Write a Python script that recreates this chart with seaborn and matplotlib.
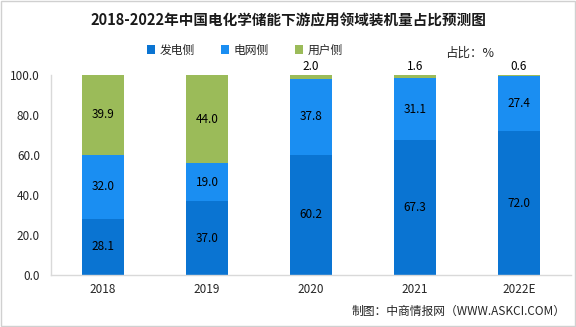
import matplotlib
matplotlib.use("Agg")
import matplotlib.pyplot as plt
import seaborn as sns
import pandas as pd
import numpy as np
from matplotlib.patches import Patch, Rectangle

years = ["2018", "2019", "2020", "2021", "2022E"]
gen = [28.1, 37.0, 60.2, 67.3, 72.0]
grid = [32.0, 19.0, 37.8, 31.1, 27.4]
user = [39.9, 44.0, 2.0, 1.6, 0.6]
names = ["发电侧", "电网侧", "用户侧"]
colors = ["#0a74d2", "#1a8ef2", "#9bbb59"]

sns.set_theme(style="white")
plt.rcParams['font.family'] = ['Noto Sans CJK SC', 'DejaVu Sans']

fig = plt.figure(figsize=(5.76, 3.27), dpi=100)
ax = fig.add_axes([51/576, 1-275/327, (571-51)/576, 200/327])

df = pd.DataFrame({"year": years, "gen": gen, "grid": grid, "user": user})
bottom1 = np.array(gen)
bottom2 = bottom1 + np.array(grid)
kw = dict(width=0.4, ax=ax, saturation=1, linewidth=0, edgecolor="none")
sns.barplot(data=df, x="year", y="gen", color=colors[0], **kw)
sns.barplot(data=df, x="year", y="grid", color=colors[1], bottom=bottom1, **kw)
sns.barplot(data=df, x="year", y="user", color=colors[2], bottom=bottom2, **kw)

for i in range(len(years)):
    ax.text(i, gen[i]/2, f"{gen[i]:.1f}", ha="center", va="center", fontsize=8.5, color="black")
    ax.text(i, bottom1[i] + grid[i]/2, f"{grid[i]:.1f}", ha="center", va="center", fontsize=8.5, color="black")
    if user[i] > 5:
        ax.text(i, bottom2[i] + user[i]/2, f"{user[i]:.1f}", ha="center", va="center", fontsize=8.5, color="black")
    else:
        ax.text(i, 100.8, f"{user[i]:.1f}", ha="center", va="bottom", fontsize=8.5, color="black")

ax.set_xlim(-0.5, 4.5)
ax.set_ylim(0, 100)
ax.set_yticks([0, 20, 40, 60, 80, 100])
ax.set_yticklabels([f"{v:.1f}" for v in [0, 20, 40, 60, 80, 100]], fontsize=8.5)
ax.tick_params(axis="x", labelsize=8.5, length=0, pad=6)
ax.tick_params(axis="y", length=0, pad=8)
ax.set_xlabel("")
ax.set_ylabel("")
for s in ["top", "right"]:
    ax.spines[s].set_visible(False)
for s in ["left", "bottom"]:
    ax.spines[s].set_color("#d9d9d9")
    ax.spines[s].set_linewidth(1)

fig.text(0.5, 1-20/327, "2018-2022年中国电化学储能下游应用领域装机量占比预测图", ha="center", va="center",
         fontsize=10.5, fontweight="bold", color="#1a1a1a")
handles = [Patch(facecolor=c, edgecolor="none") for c in colors]
fig.legend(handles, names, loc="center", bbox_to_anchor=(245/576, 1-50/327), ncol=3, frameon=False,
           fontsize=8.5, handlelength=0.7, handleheight=0.7, columnspacing=2.2, handletextpad=0.4)
fig.text(470/576, 1-53/327, "占比：%", ha="center", va="center", fontsize=9)
fig.text(566/576, 1-311/327, "制图：中商情报网（WWW.ASKCI.COM）", ha="right", va="center", fontsize=8.5)
fig.patches.append(Rectangle((0.001, 0.002), 0.997, 0.995, transform=fig.transFigure, fill=False,
                             edgecolor="#d0d0d0", linewidth=1))
fig.savefig("out.png", dpi=100)
